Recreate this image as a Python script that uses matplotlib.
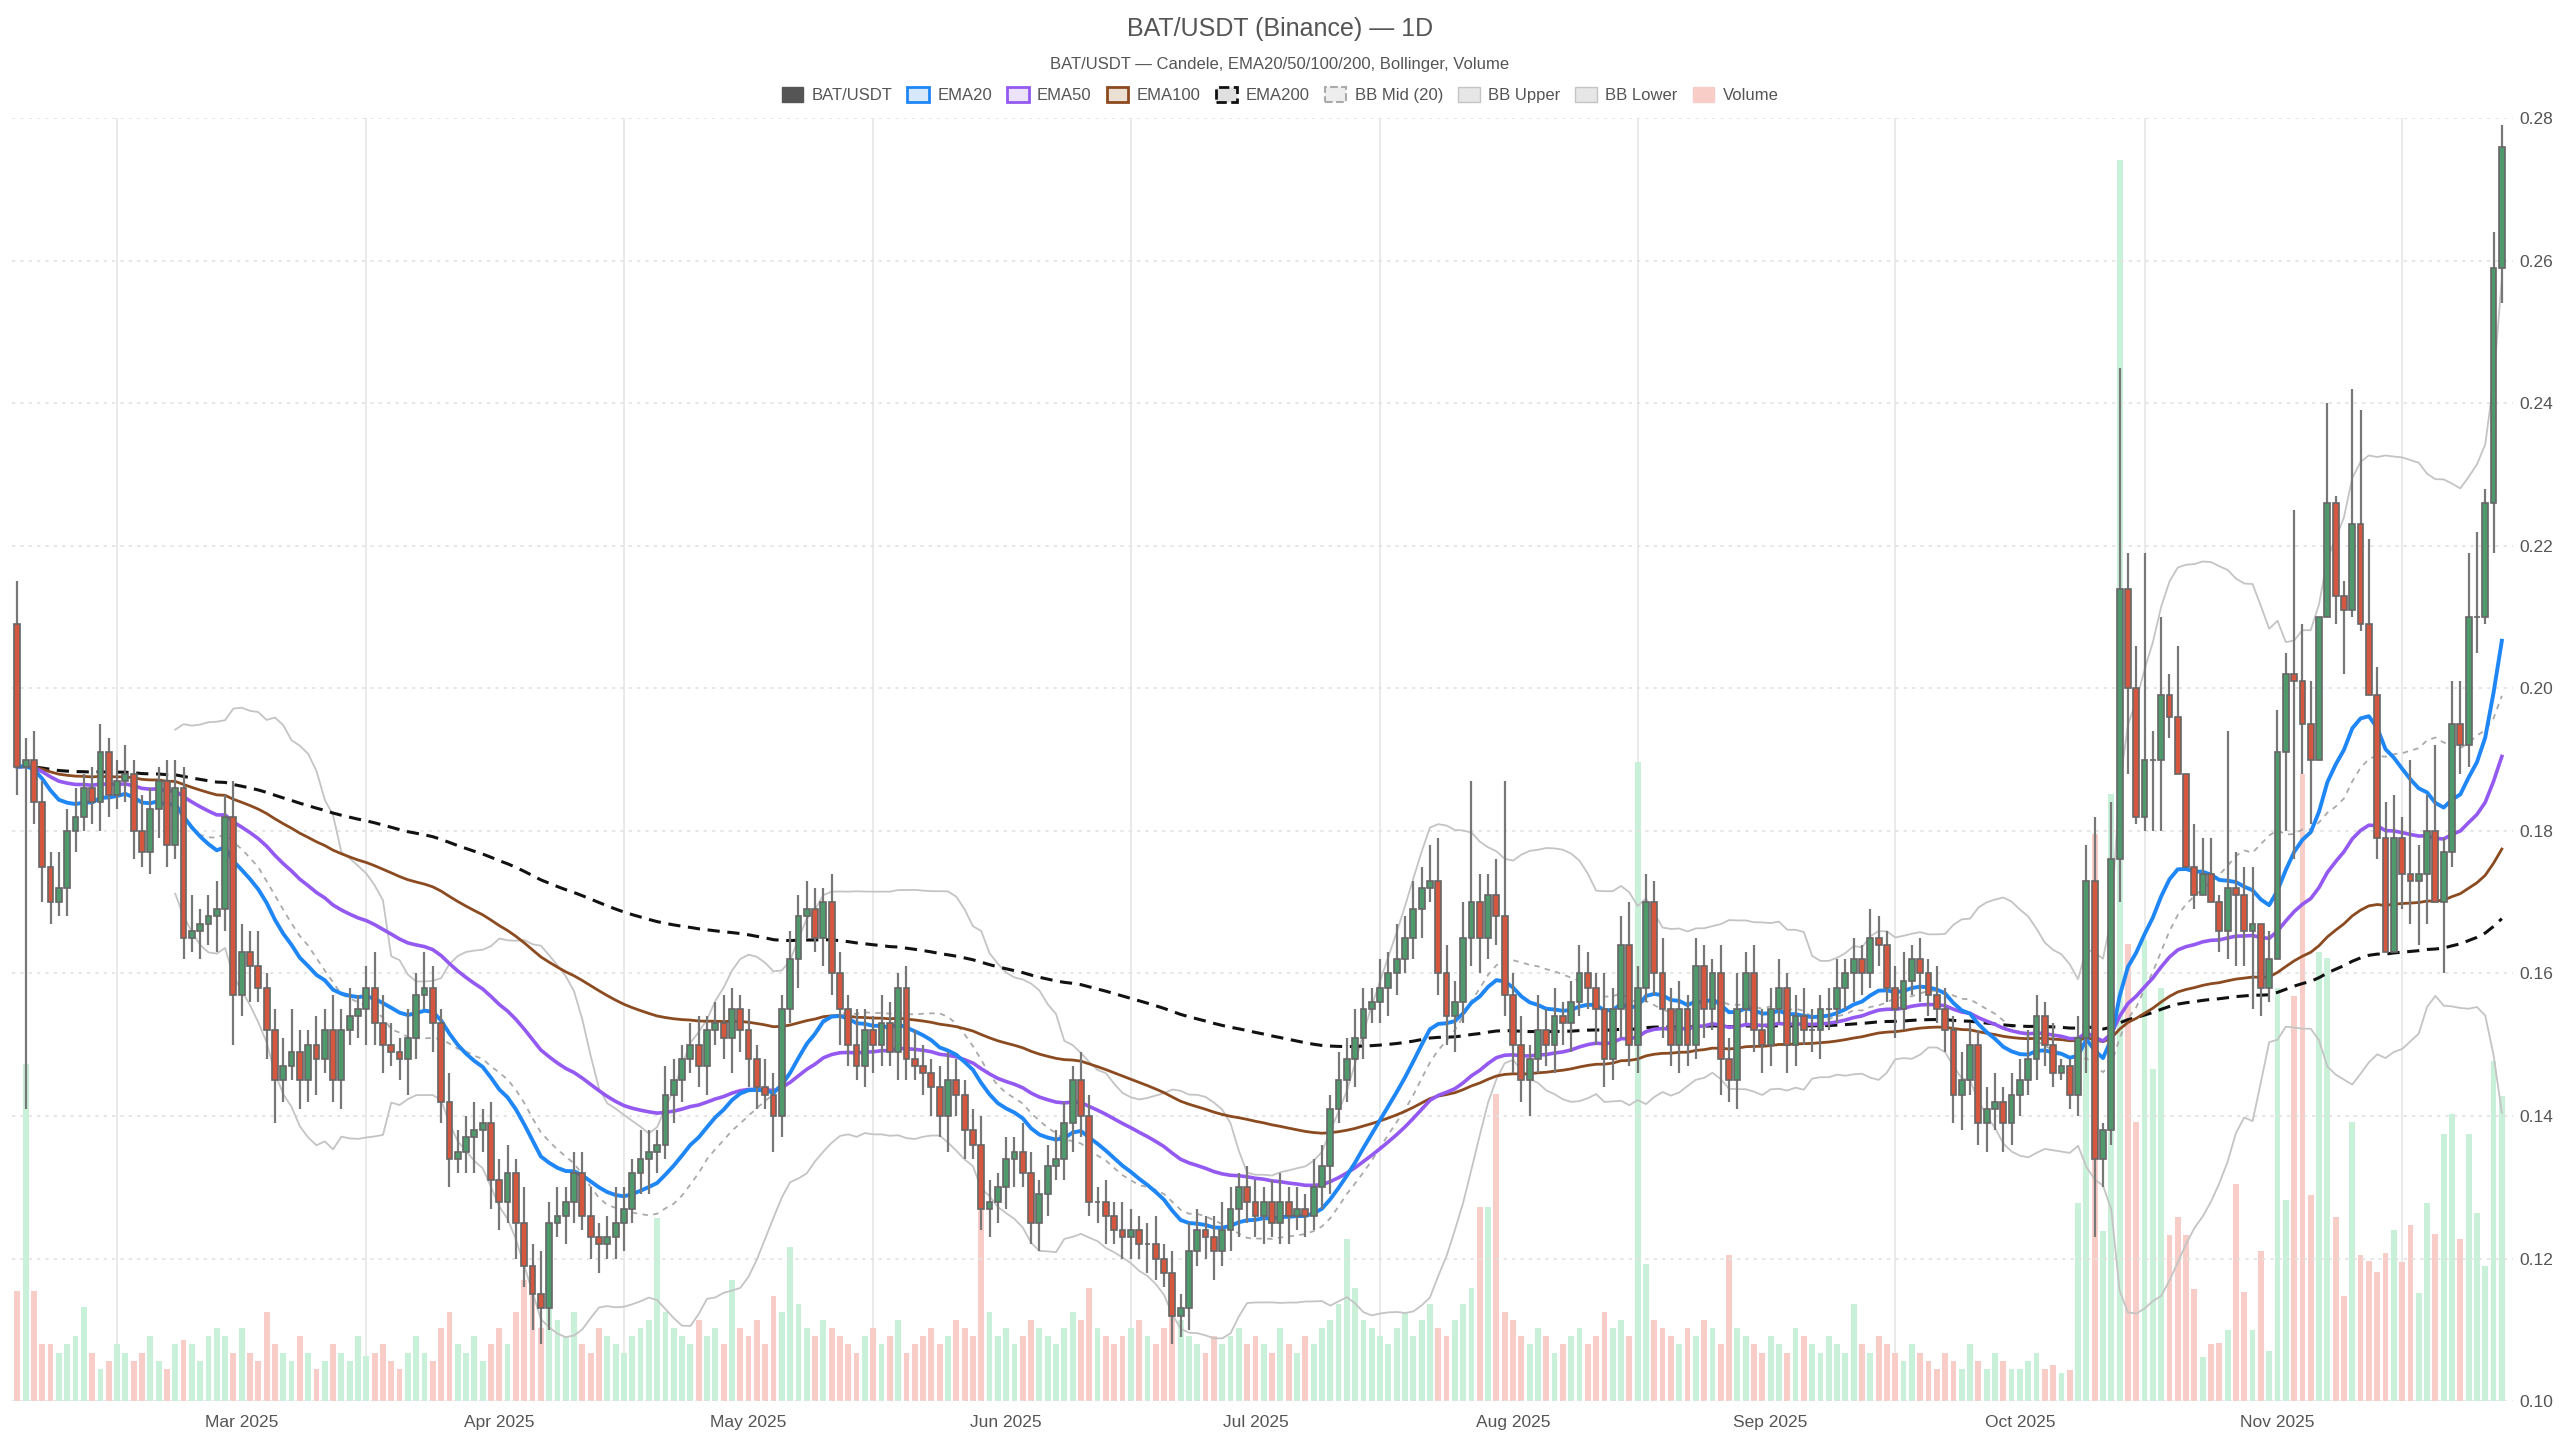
import matplotlib
matplotlib.use("Agg")
import matplotlib.pyplot as plt
import matplotlib.dates as mdates
from matplotlib.patches import Patch
import numpy as np
import pandas as pd

plt.rcParams['font.family'] = ['Liberation Sans', 'DejaVu Sans']

# --- closes (Feb 2 -> Nov 28 2025) ---
close_feb = [0.189,0.190,0.184,0.175,0.170,0.172,0.180,0.182,0.186,0.184,0.191,0.185,0.187,0.188,0.180,0.177,0.183,0.187,0.178,0.186,0.165,0.166,0.167,0.168,0.169,0.182,0.157]
close_mar = [0.163,0.161,0.158,0.152,0.145,0.147,0.149,0.145,0.150,0.148,0.152,0.145,0.152,0.154,0.155,0.158,0.153,0.150,0.149,0.148,0.151,0.157,0.158,0.153,0.142,0.134,0.135,0.137,0.138,0.139,0.131]
close_apr = [0.128,0.132,0.125,0.119,0.115,0.113,0.125,0.126,0.128,0.132,0.126,0.123,0.122,0.123,0.125,0.127,0.132,0.134,0.135,0.136,0.143,0.145,0.148,0.150,0.147,0.152,0.153,0.151,0.155,0.152]
close_may = [0.148,0.144,0.143,0.140,0.155,0.162,0.168,0.169,0.165,0.170,0.160,0.155,0.150,0.147,0.152,0.150,0.153,0.149,0.158,0.148,0.147,0.146,0.144,0.140,0.145,0.143,0.138,0.136,0.127,0.128,0.130]
close_jun = [0.134,0.135,0.132,0.125,0.129,0.133,0.134,0.139,0.145,0.140,0.128,0.128,0.126,0.124,0.123,0.124,0.122,0.122,0.120,0.118,0.112,0.113,0.121,0.124,0.123,0.121,0.124,0.127,0.130,0.128]
close_jul = [0.126,0.128,0.125,0.128,0.126,0.127,0.126,0.130,0.133,0.141,0.145,0.148,0.151,0.155,0.156,0.158,0.160,0.162,0.165,0.169,0.172,0.173,0.160,0.154,0.156,0.165,0.170,0.165,0.171,0.168,0.157]
close_aug = [0.150,0.145,0.148,0.152,0.150,0.154,0.153,0.156,0.160,0.158,0.155,0.148,0.155,0.164,0.150,0.158,0.170,0.160,0.155,0.150,0.155,0.150,0.161,0.155,0.160,0.148,0.145,0.155,0.160,0.152,0.150]
close_sep = [0.155,0.158,0.150,0.154,0.152,0.152,0.155,0.155,0.158,0.160,0.162,0.160,0.165,0.164,0.158,0.155,0.159,0.162,0.160,0.157,0.155,0.152,0.143,0.145,0.150,0.139,0.141,0.142,0.139,0.143]
close_oct_a = [0.145,0.148,0.154,0.150,0.146]
close_oct_b = [0.147,0.143,0.151,0.173,0.134,0.138,0.176,0.214,0.200,0.182,0.190,0.190,0.199,0.196,0.188,0.175,0.171,0.174,0.170,0.166,0.172,0.171,0.166,0.167,0.158,0.162]
close_nov = [0.191,0.202,0.201,0.195,0.190,0.210,0.226,0.213,0.211,0.223,0.209,0.199,0.179,0.163,0.179,0.174,0.173,0.174,0.180,0.170,0.177,0.195,0.192,0.210,0.210,0.226,0.259,0.276]
first_open = 0.209

# wick sizes (thousandths) Feb 2 -> Oct 5
wick_up_early = [
    6,3,4,3,2,5,3,4,2,3,4,2,3,4,2,5,3,2,3,4,3,5,2,3,4,3,5,
    4,3,5,2,3,4,6,3,2,4,3,5,3,4,2,3,5,4,3,2,4,3,5,3,2,4,3,3,4,2,3,
    3,4,2,5,3,6,3,4,2,3,3,4,2,3,5,3,2,4,3,2,4,3,2,3,4,2,3,4,3,2,
    3,2,4,3,2,4,3,4,3,2,4,3,2,5,3,2,4,3,2,3,4,3,2,3,4,3,2,3,4,3,2,
    3,2,4,3,2,3,4,3,2,4,3,2,3,2,4,3,2,3,4,2,3,2,4,3,2,3,4,3,2,3,
    3,2,3,4,2,3,2,4,3,2,4,3,4,3,2,4,3,5,3,4,3,5,6,4,3,5,17,4,3,5,19,
    3,4,2,5,3,4,2,3,4,3,2,5,3,4,6,3,4,3,5,3,4,2,4,3,2,4,3,5,3,4,3,
    3,4,2,3,4,3,2,3,4,2,3,2,4,3,2,3,4,2,3,2,4,3,2,4,3,2,3,4,2,3,
    3,4,3,2,3,
]
wick_dn_early = [
    4,48,3,5,3,2,4,3,2,3,4,3,2,3,4,2,3,4,3,2,3,2,4,3,5,3,7,
    3,5,2,4,6,3,2,4,3,5,2,3,4,2,3,5,3,4,2,3,5,3,2,4,3,4,2,3,5,3,4,
    4,3,5,3,5,5,3,2,4,3,2,3,4,2,3,4,2,3,5,3,2,4,3,2,3,4,2,3,5,3,
    4,3,2,5,3,2,4,3,2,4,3,5,3,2,3,4,3,2,4,3,2,3,4,3,5,3,4,2,3,4,3,
    3,4,2,3,4,3,2,3,4,3,2,3,4,2,3,3,2,4,3,2,4,3,3,2,3,4,2,3,4,3,
    3,4,2,3,4,2,3,2,3,4,2,3,4,3,2,3,4,3,2,3,4,2,3,4,5,3,4,5,3,4,3,
    4,3,5,2,3,4,3,4,2,3,5,4,3,4,3,4,2,3,4,3,4,3,2,4,3,5,3,4,2,3,4,
    3,2,4,3,2,3,4,3,2,3,4,3,2,3,2,4,3,2,4,3,2,3,4,5,2,3,4,3,4,3,
    3,2,3,3,2,
]
# explicit highs / lows Oct 6 -> Nov 28
high_late = [0.148,0.148,0.154,0.178,0.182,0.139,0.184,0.245,0.219,0.206,0.219,0.194,0.210,0.202,0.206,0.188,0.181,0.179,0.179,0.171,0.194,0.177,0.175,0.175,0.163,0.166,
             0.197,0.205,0.225,0.209,0.201,0.210,0.240,0.227,0.215,0.242,0.239,0.221,0.203,0.184,0.185,0.182,0.190,0.178,0.185,0.192,0.179,0.201,0.201,0.219,0.222,0.228,0.264,0.279]
low_late = [0.145,0.141,0.140,0.146,0.123,0.130,0.136,0.170,0.188,0.181,0.180,0.180,0.180,0.193,0.189,0.175,0.169,0.172,0.170,0.163,0.162,0.161,0.161,0.155,0.154,0.156,
            0.162,0.180,0.176,0.188,0.181,0.190,0.220,0.209,0.202,0.210,0.208,0.199,0.176,0.163,0.163,0.169,0.167,0.164,0.167,0.170,0.160,0.175,0.188,0.189,0.205,0.209,0.219,0.254]

# volume (arbitrary units)
vol_feb = [136,416,136,70,70,60,70,80,116,60,40,50,70,60,50,60,80,50,40,70,76,70,50,80,90,80,60]
vol_mar = [90,60,50,110,70,60,50,80,60,40,50,70,60,50,80,56,60,70,50,40,60,80,60,50,90,110,70,60,80,50,70]
vol_apr = [90,70,110,150,160,90,120,100,80,110,70,60,90,80,70,60,80,90,100,226,110,90,80,70,100,80,90,70,150,90]
vol_may = [80,100,70,130,110,190,120,90,80,100,90,80,70,60,80,90,70,80,100,60,70,80,90,70,80,100,90,80,240,110,80]
vol_jun = [90,70,80,100,90,80,70,90,110,100,140,90,80,70,80,90,100,80,70,90,110,100,80,70,60,80,70,80,90,70]
vol_jul = [80,70,60,90,70,60,80,70,90,100,120,200,140,100,90,80,70,90,110,80,100,120,90,80,100,120,140,240,240,380,110]
vol_aug = [100,80,70,90,80,60,70,80,90,70,80,110,90,100,80,790,170,100,90,80,70,90,80,100,90,70,180,90,80,70,60]
vol_sep = [80,70,60,90,80,70,60,80,70,60,120,70,60,80,70,60,50,70,60,50,40,60,50,40,70,50,40,60,50,40]
vol_oct_a = [40,50,60,40,45]
vol_oct_b = [35,38,245,480,700,210,750,1533,565,345,570,410,510,205,228,205,138,55,70,72,88,268,135,88,185,62]
vol_nov = [510,248,500,775,255,555,548,227,130,345,180,173,160,183,212,172,217,133,245,207,330,355,200,330,232,167,420,377]

grid_days = ["2025-02-14", "2025-03-16", "2025-04-16", "2025-05-16", "2025-06-16",
             "2025-07-16", "2025-08-16", "2025-09-16", "2025-10-16", "2025-11-16"]

closes = np.array(close_feb + close_mar + close_apr + close_may + close_jun + close_jul
                  + close_aug + close_sep + close_oct_a + close_oct_b + close_nov)
volume = np.array(vol_feb + vol_mar + vol_apr + vol_may + vol_jun + vol_jul
                  + vol_aug + vol_sep + vol_oct_a + vol_oct_b + vol_nov)
dates = pd.date_range("2025-02-02", periods=len(closes), freq="D")
opens = np.concatenate([[first_open], closes[:-1]])

n_early = len(wick_up_early)
body_hi = np.maximum(opens, closes)
body_lo = np.minimum(opens, closes)
highs = np.concatenate([body_hi[:n_early] + np.array(wick_up_early) / 1000, high_late])
lows = np.concatenate([body_lo[:n_early] - np.array(wick_dn_early) / 1000, low_late])

s = pd.Series(closes, index=dates)
ema20 = s.ewm(span=20, adjust=False).mean()
ema50 = s.ewm(span=50, adjust=False).mean()
ema100 = s.ewm(span=100, adjust=False).mean()
ema200 = s.ewm(span=200, adjust=False).mean()
bb_mid = s.rolling(20).mean()
bb_std = s.rolling(20).std(ddof=0)
bb_up = bb_mid + 2 * bb_std
bb_lo = bb_mid - 2 * bb_std

GREEN = "#4f9a6c"
RED = "#d5573f"
VGREEN = "#c9f0d9"
VRED = "#f8cdc7"
TXT = "#555555"

fig = plt.figure(figsize=(25.6, 14.4), dpi=100)
ax = fig.add_axes([0.0045, 0.027, 0.977, 0.891])
axv = ax.twinx()
ax.set_zorder(axv.get_zorder() + 1)
ax.patch.set_visible(False)

x = mdates.date2num(dates)
up = closes >= opens

axv.bar(x, volume, width=0.7, color=np.where(up, VGREEN, VRED), linewidth=0)
axv.set_ylim(0, 1585)
axv.set_yticks([])
for sp in axv.spines.values():
    sp.set_visible(False)
for d in grid_days:
    axv.axvline(mdates.date2num(pd.Timestamp(d)), color="#e6e6e6", lw=1.2, zorder=0)

ax.plot(x, bb_up, color="#c4c4c4", lw=1.3)
ax.plot(x, bb_lo, color="#c4c4c4", lw=1.3)
ax.plot(x, bb_mid, color="#aaaaaa", lw=1.3, ls=(0, (3, 3)))
ax.plot(x, ema200, color="#111111", lw=2.2, ls=(0, (4, 2.5)))
ax.plot(x, ema100, color="#8b4a1f", lw=2.0)
ax.plot(x, ema50, color="#9359f0", lw=2.6)
ax.plot(x, ema20, color="#1f86f5", lw=2.8)

ax.vlines(x, lows, highs, color="#777777", lw=1.6, zorder=3)
ax.bar(x, body_hi - body_lo, bottom=body_lo, width=0.7,
       color=np.where(up, GREEN, RED), edgecolor="#666666", linewidth=1.2, zorder=4)

ax.set_xlim(x[0] - 0.7, x[-1] + 1.3)
ax.set_ylim(0.10, 0.28)
ax.yaxis.tick_right()
ax.set_yticks(np.arange(0.10, 0.281, 0.02))
ax.yaxis.set_major_formatter(matplotlib.ticker.FuncFormatter(lambda v, p: f"{v:.2f}"))
ax.grid(axis="y", color="#e2e2e2", ls=(0, (2, 3)), lw=1.2)

month_starts = pd.date_range("2025-03-01", "2025-11-01", freq="MS")
ax.set_xticks(mdates.date2num(month_starts))
ax.set_xticklabels([d.strftime("%b %Y") for d in month_starts])
ax.tick_params(axis="x", length=0, labelsize=12.5, colors=TXT, pad=10)
ax.tick_params(axis="y", length=0, labelsize=12.5, colors=TXT, pad=5)
for sp in ax.spines.values():
    sp.set_visible(False)

fig.text(0.5, 0.980, "BAT/USDT (Binance) — 1D", ha="center", va="center", fontsize=18, color=TXT)
fig.text(0.5, 0.955, "BAT/USDT — Candele, EMA20/50/100/200, Bollinger, Volume",
         ha="center", va="center", fontsize=12, color=TXT)

handles = [
    Patch(facecolor="#555555", edgecolor="#555555", label="BAT/USDT"),
    Patch(facecolor="#d6e8fb", edgecolor="#1f86f5", lw=2, label="EMA20"),
    Patch(facecolor="#ece3fb", edgecolor="#9359f0", lw=2, label="EMA50"),
    Patch(facecolor="#ecdfd4", edgecolor="#8b4a1f", lw=2, label="EMA100"),
    Patch(facecolor="#e0e0e0", edgecolor="#111111", lw=2, ls="--", label="EMA200"),
    Patch(facecolor="#eeeeee", edgecolor="#aaaaaa", lw=1.5, ls="--", label="BB Mid (20)"),
    Patch(facecolor="#e6e6e6", edgecolor="#c4c4c4", label="BB Upper"),
    Patch(facecolor="#e6e6e6", edgecolor="#c4c4c4", label="BB Lower"),
    Patch(facecolor=VRED, edgecolor=VRED, label="Volume"),
]
fig.legend(handles=handles, loc="center", bbox_to_anchor=(0.5, 0.934), ncol=9, frameon=False,
           fontsize=12, labelcolor=TXT, handlelength=1.3, handleheight=1.0, columnspacing=0.9,
           handletextpad=0.5)

fig.savefig("out.png", dpi=100)
